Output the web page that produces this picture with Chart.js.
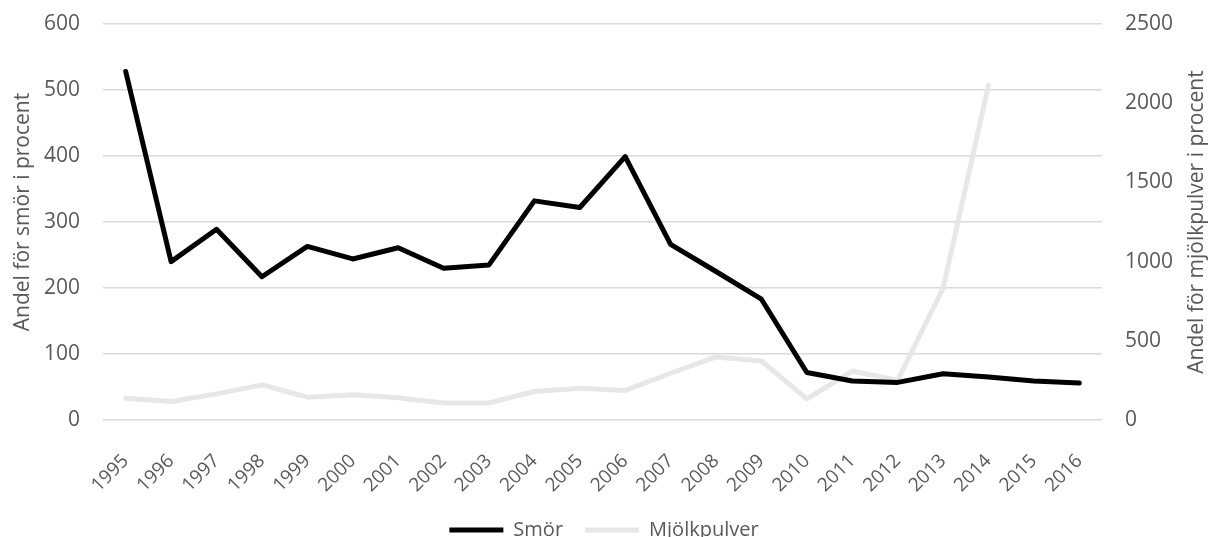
<!DOCTYPE html>
<html>
<head>
<meta charset="utf-8">
<script src="https://cdn.jsdelivr.net/npm/chart.js@4"></script>
<style>
  html, body { margin: 0; padding: 0; background: #fff; }
  #wrap { width: 1208px; height: 537px; }
</style>
</head>
<body>
<div id="wrap"><canvas id="chart"></canvas></div>
<script>
// Data
const years = ['1995', '1996', '1997', '1998', '1999', '2000', '2001', '2002', '2003', '2004', '2005',
               '2006', '2007', '2008', '2009', '2010', '2011', '2012', '2013', '2014', '2015', '2016'];
const smor = [528, 240, 289, 217, 263, 244, 261, 230, 235, 332, 322,
              399, 266, 225, 183, 72, 59, 57, 70, 65, 59, 56];
const mjolkpulver = [138, 117, 165, 222, 144, 159, 140, 108, 108, 180, 201,
                     187, 295, 398, 373, 133, 309, 250, 832, 2113, null, null];
const leftTicks = [0, 100, 200, 300, 400, 500, 600];
const rightTicks = [0, 500, 1000, 1500, 2000, 2500];
const leftTitle = 'Andel för smör i procent';
const rightTitle = 'Andel för mjölkpulver i procent';

const fontFamily = "'Open Sans', 'Noto Sans', sans-serif";
const textColor = '#595959';

// Both axis titles read bottom-to-top in the original, so draw them here
const axisTitles = {
    id: 'axisTitles',
    afterDraw(chart) {
        const ctx = chart.ctx;
        const area = chart.chartArea;
        const midY = (area.top + area.bottom) / 2;
        ctx.save();
        ctx.fillStyle = textColor;
        ctx.font = '21px ' + fontFamily;
        ctx.textAlign = 'center';
        ctx.textBaseline = 'middle';
        [[23, midY - 10, leftTitle], [1197, midY, rightTitle]].forEach(([x, y, text]) => {
            ctx.save();
            ctx.translate(x, y);
            ctx.rotate(-Math.PI / 2);
            ctx.fillText(text, 0, 0);
            ctx.restore();
        });
        ctx.restore();
    }
};

// keep the tick padding from pushing the plot area down
const noVerticalPadding = scale => {
    scale.paddingTop = 0;
    scale.paddingBottom = 0;
};

new Chart(document.getElementById('chart'), {
    type: 'line',
    data: {
        labels: years,
        datasets: [
            {
                label: 'Smör',
                data: smor,
                yAxisID: 'y',
                borderColor: '#000000',
                backgroundColor: '#000000',
                borderWidth: 5,
                pointRadius: 0,
                tension: 0,
                borderCapStyle: 'round',
                borderJoinStyle: 'round'
            },
            {
                label: 'Mjölkpulver',
                data: mjolkpulver,
                yAxisID: 'y1',
                borderColor: '#e7e7e7',
                backgroundColor: '#e7e7e7',
                borderWidth: 5,
                pointRadius: 0,
                tension: 0,
                borderCapStyle: 'round',
                borderJoinStyle: 'round'
            }
        ]
    },
    options: {
        responsive: true,
        maintainAspectRatio: false,
        animation: false,
        layout: { padding: { top: 24, left: 0, right: 0, bottom: -13 } },
        plugins: {
            legend: {
                position: 'bottom',
                labels: {
                    usePointStyle: true,
                    pointStyle: 'line',
                    pointStyleWidth: 54,
                    padding: 22,
                    color: textColor,
                    font: { family: fontFamily, size: 20 }
                }
            },
            tooltip: { enabled: false }
        },
        scales: {
            x: {
                offset: true,
                grid: { display: false },
                border: { display: false },
                afterFit: scale => { scale.height = 78; },
                ticks: {
                    color: textColor,
                    font: { family: fontFamily, size: 19 },
                    minRotation: 45,
                    maxRotation: 45,
                    padding: 22
                }
            },
            y: {
                position: 'left',
                min: 0,
                max: 600,
                afterBuildTicks: axis => { axis.ticks = leftTicks.map(v => ({ value: v })); },
                afterFit: scale => { scale.width = 103; noVerticalPadding(scale); },
                grid: { color: '#d9d9d9', lineWidth: 1.5, drawTicks: false },
                border: { display: false },
                ticks: {
                    color: textColor,
                    font: { family: fontFamily, size: 21 },
                    padding: 23
                }
            },
            y1: {
                position: 'right',
                min: 0,
                max: 2500,
                afterBuildTicks: axis => { axis.ticks = rightTicks.map(v => ({ value: v })); },
                afterFit: scale => { scale.width = 106; noVerticalPadding(scale); },
                grid: { display: false, drawTicks: false },
                border: { display: false },
                ticks: {
                    color: textColor,
                    font: { family: fontFamily, size: 21 },
                    padding: 23,
                    callback: v => String(v)
                }
            }
        }
    },
    plugins: [axisTitles]
});
</script>
</body>
</html>
